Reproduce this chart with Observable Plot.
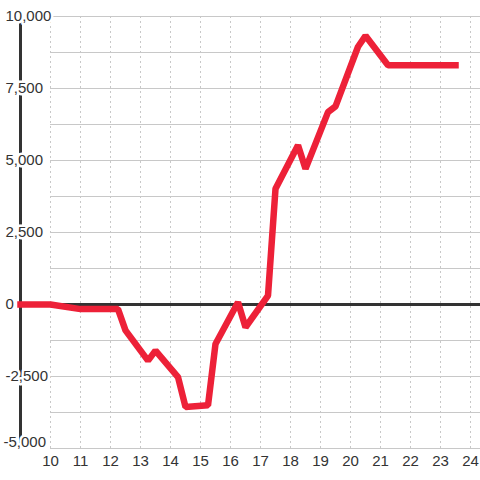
<!DOCTYPE html>
<html>
<head>
<meta charset="utf-8">
<script src="https://cdn.jsdelivr.net/npm/d3@7"></script>
<script src="https://cdn.jsdelivr.net/npm/@observablehq/plot@0.6"></script>
<style>
  html, body { margin: 0; padding: 0; background: #ffffff; }
</style>
</head>
<body>
<div id="chart"></div>
<script>
// Data
const hours = [9, 10, 11, 12.25, 12.5, 13.25, 13.5, 14.25, 14.5, 15.25, 15.5, 16.25, 16.5, 17.25, 17.5, 18.25, 18.5, 19.25, 19.5, 20.25, 20.5, 21.25, 23.5];
const values = [0, 0, -160, -160, -900, -1950, -1600, -2520, -3560, -3500, -1370, 80, -790, 310, 4020, 5530, 4710, 6680, 6880, 8950, 9330, 8310, 8310];
const xTicks = [10, 11, 12, 13, 14, 15, 16, 17, 18, 19, 20, 21, 22, 23, 24];
const yTicks = [-5000, -2500, 0, 2500, 5000, 7500, 10000];
const yGrid = [-5000, -3750, -2500, -1250, 1250, 2500, 3750, 5000, 6250, 7500, 8750, 10000];

const xDomain = [9, 24.333];
const yDomain = [-5000, 10000];

const data = hours.map((h, i) => ({h, v: values[i]}));
const fmt = d => d.toLocaleString("en-US");

const chart = Plot.plot({
  width: 480,
  height: 480,
  marginLeft: 20,
  marginRight: 0,
  marginTop: 16,
  marginBottom: 32,
  x: {domain: xDomain},
  y: {domain: yDomain, axis: null},
  style: {fontFamily: "'Liberation Sans', Arial, sans-serif", fontSize: "15px", color: "#333", background: "#ffffff"},
  marks: [
    Plot.ruleX(xTicks, {stroke: "#c8c8c8", strokeDasharray: "2,3", strokeWidth: 1}),
    Plot.ruleY(yGrid, {x1: xTicks[0], x2: xDomain[1], stroke: "#c8c8c8", strokeWidth: 1}),
    Plot.ruleY([0], {stroke: "#333", strokeWidth: 3}),
    Plot.ruleX([xDomain[0]], {stroke: "#333", strokeWidth: 3}),
    Plot.line(data, {x: "h", y: "v", stroke: "#ed2138", strokeWidth: 6.5, strokeLinejoin: "miter", strokeLinecap: "square", curve: "linear"}),
    Plot.axisX(xTicks, {tickSize: 0, tickPadding: 7, fontSize: 15, fill: "#333", label: null}),
    Plot.text(yTicks.filter(d => d > yDomain[0]), {y: d => d, text: fmt, frameAnchor: "left", dx: -15, textAnchor: "start", fill: "#333", stroke: "#ffffff", strokeWidth: 5, paintOrder: "stroke", fontSize: 15}),
    Plot.text(yTicks.filter(d => d === yDomain[0]), {y: d => d, text: fmt, frameAnchor: "left", dx: -17, dy: -6, textAnchor: "start", fill: "#333", stroke: "#ffffff", strokeWidth: 5, paintOrder: "stroke", fontSize: 15})
  ]
});
document.getElementById("chart").appendChild(chart);
</script>
</body>
</html>
